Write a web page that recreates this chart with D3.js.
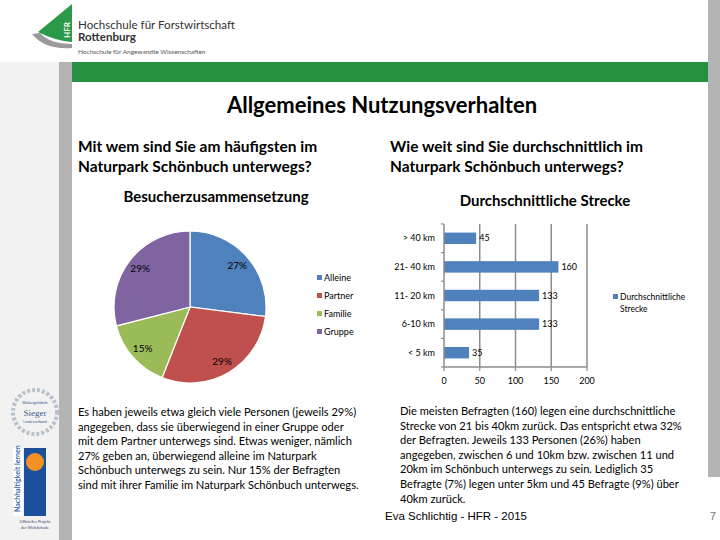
<!DOCTYPE html>
<html><head><meta charset="utf-8">
<script src="https://cdn.jsdelivr.net/npm/d3@7"></script>
<style>body{margin:0;background:#fff}svg{display:block}</style>
</head><body>
<script>
// ---- data ----
const pieCategories = ["Alleine", "Partner", "Familie", "Gruppe"];
const pieValues = [27, 29, 15, 29];
const pieColors = ["#4F81BD", "#C0504D", "#9BBB59", "#8064A2"];
const barCategories = ["> 40 km", "21- 40 km", "11- 20 km", "6-10 km", "< 5 km"];
const barValues = [45, 160, 133, 133, 35];
const barTicks = [0, 50, 100, 150, 200];
const barSeries = "Durchschnittliche Strecke";
const leftText = [
  "Es haben jeweils etwa gleich viele Personen (jeweils 29%)",
  "angegeben, dass sie überwiegend in einer Gruppe oder",
  "mit dem Partner unterwegs sind. Etwas weniger, nämlich",
  "27% geben an, überwiegend alleine im Naturpark",
  "Schönbuch unterwegs zu sein. Nur 15% der Befragten",
  "sind mit ihrer Familie im Naturpark Schönbuch unterwegs."
];
const rightText = [
  "Die meisten Befragten (160) legen eine durchschnittliche",
  "Strecke von 21 bis 40km zurück. Das entspricht etwa 32%",
  "der Befragten. Jeweils 133 Personen (26%) haben",
  "angegeben, zwischen 6 und 10km bzw. zwischen 11 und",
  "20km im Schönbuch unterwegs zu sein. Lediglich 35",
  "Befragte (7%) legen unter 5km und 45 Befragte (9%) über",
  "40km zurück."
];

const F = "Lato, 'Open Sans', sans-serif";
const svg = d3.select("body").append("svg").attr("width", 720).attr("height", 540)
  .style("font-family", F);

// ---- page frame ----
svg.append("rect").attr("x", 0).attr("y", 62).attr("width", 59).attr("height", 478).attr("fill", "#f2f2f2");
svg.append("rect").attr("x", 59).attr("y", 62).attr("width", 13).attr("height", 478).attr("fill", "#b4b4b4");
svg.append("rect").attr("x", 708).attr("y", 0).attr("width", 12).attr("height", 477).attr("fill", "#b4b4b4");
svg.append("rect").attr("x", 72).attr("y", 62).attr("width", 636).attr("height", 20).attr("fill", "#25903f");

// ---- logo ----
svg.append("path").attr("d", "M32,34 Q45,50 72,48 L72,44 Q50,44 40,33 Z").attr("fill", "#9a9a9a");
svg.append("path").attr("d", "M72,4 L72,42 Q56,41 38,32 Z").attr("fill", "#2a9a48");
svg.append("text").attr("transform", "translate(70,38) rotate(-90)").attr("font-size", 8).attr("fill", "#fff")
  .attr("font-weight", "bold").text("HFR");
svg.append("text").attr("x", 78).attr("y", 29).attr("font-size", 11.6).attr("fill", "#333").text("Hochschule für Forstwirtschaft");
svg.append("text").attr("x", 78).attr("y", 41).attr("font-size", 11.6).attr("fill", "#333").attr("font-weight", "bold").text("Rottenburg");
svg.append("text").attr("x", 78).attr("y", 54).attr("font-size", 6.5).attr("fill", "#555").text("Hochschule für Angewandte Wissenschaften");

// ---- left badges ----
const b1 = svg.append("g");
b1.append("circle").attr("cx", 35).attr("cy", 412).attr("r", 22).attr("fill", "none").attr("stroke", "#b9c2cc").attr("stroke-width", 4).attr("stroke-dasharray", "3,2");
b1.append("text").attr("x", 35).attr("y", 404).attr("text-anchor", "middle").attr("font-size", 4).attr("fill", "#3a5a8a").text("Bildungsfabrik");
b1.append("text").attr("x", 35).attr("y", 416).attr("text-anchor", "middle").attr("font-size", 9).attr("fill", "#3a5a8a").attr("font-family", "serif").text("Sieger");
b1.append("text").attr("x", 35).attr("y", 423).attr("text-anchor", "middle").attr("font-size", 3.5).attr("fill", "#3a5a8a").text("Landesverband");
const b2 = svg.append("g");
b2.append("rect").attr("x", 13).attr("y", 448).attr("width", 10).attr("height", 68).attr("fill", "#fff");
b2.append("text").attr("transform", "translate(20,512) rotate(-90)").attr("font-size", 7).attr("fill", "#3b6aa8").attr("font-weight", "bold").text("Nachhaltigkeit lernen");
b2.append("rect").attr("x", 24).attr("y", 448).attr("width", 22).attr("height", 68).attr("fill", "#1c4f9c");
b2.append("circle").attr("cx", 35).attr("cy", 462).attr("r", 9).attr("fill", "#f29222");
b2.append("text").attr("x", 35).attr("y", 523).attr("text-anchor", "middle").attr("font-size", 4).attr("fill", "#3b4a6b").text("Offizielles Projekt");
b2.append("text").attr("x", 35).attr("y", 529).attr("text-anchor", "middle").attr("font-size", 4).attr("fill", "#3b4a6b").text("der Weltdekade");

// ---- titles ----
svg.append("text").attr("x", 382).attr("y", 113).attr("text-anchor", "middle").attr("font-size", 22).attr("font-weight", "bold").attr("fill", "#000").text("Allgemeines Nutzungsverhalten");
[["Mit wem sind Sie am häufigsten im", "Naturpark Schönbuch unterwegs?", 78], ["Wie weit sind Sie durchschnittlich im", "Naturpark Schönbuch unterwegs?", 390]]
  .forEach(([a, b, x]) => {
    svg.append("text").attr("x", x).attr("y", 152).attr("font-size", 15.5).attr("font-weight", "bold").text(a);
    svg.append("text").attr("x", x).attr("y", 172).attr("font-size", 15.5).attr("font-weight", "bold").text(b);
  });
svg.append("text").attr("x", 216).attr("y", 202).attr("text-anchor", "middle").attr("font-size", 15).attr("font-weight", "bold").text("Besucherzusammensetzung");
svg.append("text").attr("x", 545).attr("y", 206).attr("text-anchor", "middle").attr("font-size", 15).attr("font-weight", "bold").text("Durchschnittliche Strecke");

// ---- pie ----
const cx = 190, cy = 307, R = 76;
const pie = d3.pie().sort(null).value(d => d)(pieValues);
const arc = d3.arc().innerRadius(0).outerRadius(R);
const labelArc = d3.arc().innerRadius(R * 0.83).outerRadius(R * 0.83);
const pg = svg.append("g").attr("transform", `translate(${cx},${cy})`);
pg.selectAll("path").data(pie).join("path").attr("d", arc)
  .attr("fill", (d, i) => pieColors[i]).attr("stroke", "#fff").attr("stroke-width", 1.2);
const total = d3.sum(pieValues);
pg.selectAll("text").data(pie).join("text")
  .attr("transform", d => `translate(${labelArc.centroid(d)})`)
  .attr("text-anchor", "middle").attr("dy", "0.35em").attr("font-size", 10).attr("fill", "#000")
  .text(d => Math.round(d.value / total * 100) + "%");
const pl = svg.append("g");
pieCategories.forEach((c, i) => {
  pl.append("rect").attr("x", 317).attr("y", 275 + i * 18).attr("width", 5).attr("height", 5).attr("fill", pieColors[i]);
  pl.append("text").attr("x", 324).attr("y", 281 + i * 18).attr("font-size", 9).attr("fill", "#000").text(c);
});

// ---- bar chart ----
const x = d3.scaleLinear().domain([0, 200]).range([444, 587]);
const y = d3.scaleBand().domain(barCategories).range([224, 367]).paddingInner(0.6).paddingOuter(0.3);
const bg = svg.append("g");
bg.selectAll("line.grid").data(barTicks.slice(1)).join("line").attr("class", "grid")
  .attr("x1", d => x(d)).attr("x2", d => x(d)).attr("y1", 224).attr("y2", 367)
  .attr("stroke", "#8c8c8c").attr("stroke-width", 1.5);
bg.selectAll("rect").data(barValues).join("rect")
  .attr("x", x(0)).attr("y", (d, i) => y(barCategories[i])).attr("width", d => x(d) - x(0))
  .attr("height", y.bandwidth()).attr("fill", "#4F81BD");
// axes
bg.append("line").attr("x1", x(0)).attr("x2", x(0)).attr("y1", 224).attr("y2", 367).attr("stroke", "#8c8c8c").attr("stroke-width", 1.5);
bg.append("line").attr("x1", x(0)).attr("x2", x(200)).attr("y1", 367).attr("y2", 367).attr("stroke", "#8c8c8c").attr("stroke-width", 1.5);
const bounds = [224].concat(barCategories.map(c => y(c) + y.bandwidth() + y.step() * y.paddingInner() / 2));
bounds[bounds.length - 1] = 367;
bg.selectAll("line.yt").data(bounds).join("line").attr("class", "yt")
  .attr("x1", x(0) - 3).attr("x2", x(0)).attr("y1", d => d).attr("y2", d => d).attr("stroke", "#8c8c8c").attr("stroke-width", 1.2);
bg.selectAll("line.xt").data(barTicks).join("line").attr("class", "xt")
  .attr("x1", d => x(d)).attr("x2", d => x(d)).attr("y1", 367).attr("y2", 371).attr("stroke", "#8c8c8c").attr("stroke-width", 1.2);
bg.selectAll("text.xl").data(barTicks).join("text").attr("class", "xl")
  .attr("x", d => x(d)).attr("y", 384).attr("text-anchor", "middle").attr("font-size", 9).text(d => d);
bg.selectAll("text.yl").data(barCategories).join("text").attr("class", "yl")
  .attr("x", 435).attr("y", d => y(d) + y.bandwidth() / 2).attr("dy", "0.35em").attr("text-anchor", "end").attr("font-size", 9).text(d => d);
bg.selectAll("text.vl").data(barValues).join("text").attr("class", "vl")
  .attr("x", d => x(d) + 3).attr("y", (d, i) => y(barCategories[i]) + y.bandwidth() / 2).attr("dy", "0.35em").attr("font-size", 9).text(d => d);
bg.append("rect").attr("x", 613).attr("y", 294).attr("width", 5).attr("height", 5).attr("fill", "#4F81BD");
bg.append("text").attr("x", 620).attr("y", 300).attr("font-size", 8.5).text(barSeries.split(" ")[0]);
bg.append("text").attr("x", 620).attr("y", 312).attr("font-size", 8.5).text(barSeries.split(" ")[1]);

// ---- paragraphs ----
leftText.forEach((t, i) => svg.append("text").attr("x", 78).attr("y", 416 + i * 14.6).attr("font-size", 11.1).text(t));
rightText.forEach((t, i) => svg.append("text").attr("x", 400).attr("y", 415 + i * 14.6).attr("font-size", 11.1).text(t));
svg.append("text").attr("x", 456).attr("y", 520).attr("text-anchor", "middle").attr("font-size", 11.5).attr("font-family", "'Liberation Sans', Arial, sans-serif").text("Eva Schlichtig - HFR - 2015");
svg.append("text").attr("x", 713).attr("y", 520).attr("text-anchor", "middle").attr("font-size", 11.5).attr("fill", "#777").attr("font-family", "'Liberation Sans', Arial, sans-serif").text("7");
</script>
</body></html>
